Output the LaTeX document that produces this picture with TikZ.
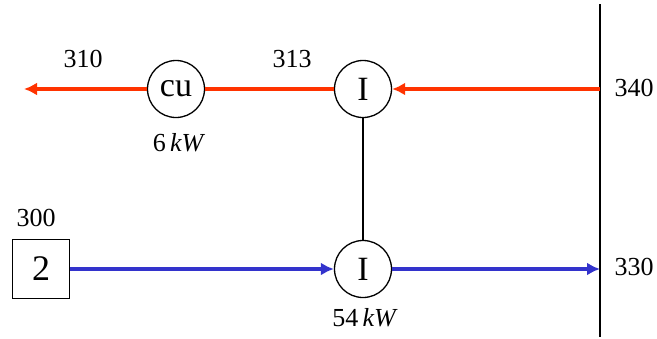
\documentclass[tikz,border=0pt]{standalone}
\usepackage{fontspec}
\setmainfont{Liberation Serif}
\usetikzlibrary{arrows.meta}
\definecolor{hotred}{HTML}{FF3300}
\definecolor{flowblue}{HTML}{3333CC}
\tikzset{
  circ/.style={circle, draw=black, line width=1.3pt, minimum size=57pt, inner sep=0pt, font=\fontsize{34}{36}\selectfont},
  sqbox/.style={rectangle, draw=black, line width=1.3pt, minimum width=57pt, minimum height=59pt, inner sep=0pt, font=\fontsize{36}{38}\selectfont},
  lbl/.style={inner sep=0pt, font=\fontsize{26}{28}\selectfont},
  hot/.style={draw=hotred, line width=3.5pt},
  cold/.style={draw=flowblue, line width=3.5pt},
  tip/.style={-{Latex[length=13pt,width=13pt]}},
  wire/.style={draw=black, line width=1.4pt}
}
\begin{document}
\begin{tikzpicture}[x=1pt,y=-1pt]
\useasboundingbox (0,0) rectangle (657,338);
% nodes
\node[circ] (cu) at (176,89) {cu};
\node[circ] (It) at (363,89) {I};
\node[circ] (Ib) at (363,269) {I};
\node[sqbox] (two) at (41,269) {2};
% border line
\coordinate (bt) at (600,4);
\coordinate (bb) at (600,337);
\coordinate (p340) at (600,89);
\coordinate (p330) at (600,269);
\coordinate (p310) at (24,89);
\draw[wire] (bt) -- (bb);
% connectors
\draw[hot,tip] (p340) -- (It.east);
\draw[hot] (It.west) -- (cu.east);
\draw[hot,tip] (cu.west) -- (p310);
\draw[wire] (It.south) -- (Ib.north);
\draw[cold,tip] (two.east) -- (Ib.west);
\draw[cold,tip] (Ib.east) -- (p330);
% labels
\node[lbl] (l310) at (83,59) {310};
\node[lbl] (l313) at (292,59) {313};
\node[lbl] (l6) at (179,143) {6\,\textit{kW}};
\node[lbl] (l340) at (634,88) {340};
\node[lbl] (l300) at (36,218) {300};
\node[lbl] (l330) at (634,267) {330};
\node[lbl] (l54) at (365,318) {54\,\textit{kW}};
\end{tikzpicture}
\end{document}
